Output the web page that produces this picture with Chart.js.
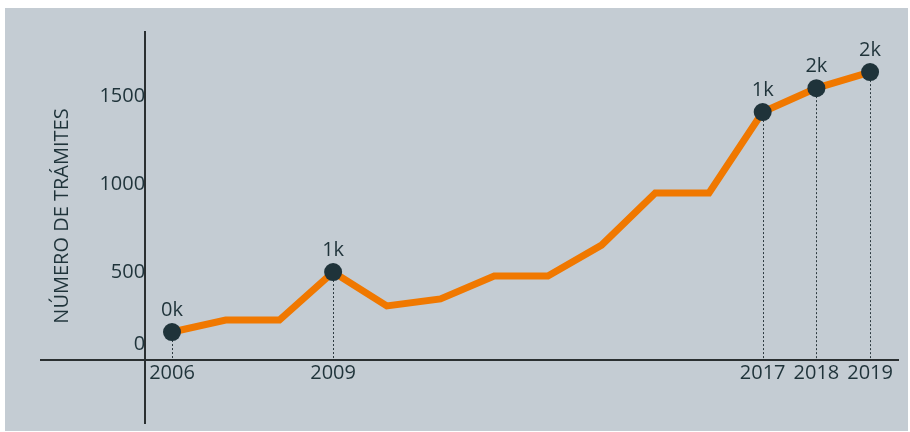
<!DOCTYPE html>
<html>
<head>
<meta charset="utf-8">
<script src="https://cdn.jsdelivr.net/npm/chart.js@4"></script>
<style>
  html, body { margin: 0; padding: 0; background: #fff; }
  #wrap { width: 910px; height: 432px; position: relative; }
</style>
</head>
<body>
<div id="wrap"><canvas id="tramitesChart"></canvas></div>
<script>
const years = [2006, 2007, 2008, 2009, 2010, 2011, 2012, 2013, 2014, 2015, 2016, 2017, 2018, 2019];
const tramites = [159, 227, 227, 500, 307, 347, 477, 477, 653, 949, 949, 1409, 1545, 1636];
const labeledYears = [2006, 2009, 2017, 2018, 2019];
const yTicks = [0, 500, 1000, 1500];
const yTitle = 'NÚMERO DE TRÁMITES';

const ink = '#1f333a';
const fontFamily = '"Open Sans", "Noto Sans", sans-serif';

const panelBg = {
  id: 'panelBg',
  beforeDraw(chart) {
    const ctx = chart.ctx;
    ctx.save();
    ctx.fillStyle = '#c4ccd3';
    ctx.fillRect(5, 8, 903, 423);
    ctx.restore();
  }
};

const dropLines = {
  id: 'dropLines',
  beforeDatasetsDraw(chart) {
    const ctx = chart.ctx;
    const x = chart.scales.x, y = chart.scales.y;
    ctx.save();
    ctx.strokeStyle = '#2d3a40';
    ctx.lineWidth = 1;
    ctx.setLineDash([2, 2]);
    years.forEach((yr, i) => {
      if (!labeledYears.includes(yr)) return;
      const px = Math.round(x.getPixelForValue(yr)) + 0.5;
      ctx.beginPath();
      ctx.moveTo(px, y.getPixelForValue(tramites[i]));
      ctx.lineTo(px, y.getPixelForValue(0));
      ctx.stroke();
    });
    ctx.restore();
  }
};

const pointLabels = {
  id: 'pointLabels',
  afterDatasetsDraw(chart) {
    const ctx = chart.ctx;
    const x = chart.scales.x, y = chart.scales.y;
    ctx.save();
    ctx.fillStyle = ink;
    ctx.font = '20px ' + fontFamily;
    ctx.textAlign = 'center';
    ctx.textBaseline = 'middle';
    years.forEach((yr, i) => {
      if (!labeledYears.includes(yr)) return;
      const txt = Math.round(tramites[i] / 1000) + 'k';
      ctx.fillText(txt, x.getPixelForValue(yr), y.getPixelForValue(tramites[i]) - 22);
    });
    // y axis title
    ctx.translate(62, 216);
    ctx.rotate(-Math.PI / 2);
    ctx.font = '20px ' + fontFamily;
    ctx.fillText(yTitle, 0, 0);
    ctx.restore();
  }
};

new Chart(document.getElementById('tramitesChart'), {
  type: 'line',
  data: {
    datasets: [{
      data: years.map((yr, i) => ({ x: yr, y: tramites[i] })),
      borderColor: '#f07800',
      borderWidth: 7,
      borderJoinStyle: 'miter',
      tension: 0,
      pointRadius: ctx => labeledYears.includes(years[ctx.dataIndex]) ? 9 : 0,
      pointHoverRadius: ctx => labeledYears.includes(years[ctx.dataIndex]) ? 9 : 0,
      pointBackgroundColor: ink,
      pointBorderWidth: 0
    }]
  },
  options: {
    responsive: true,
    maintainAspectRatio: false,
    animation: false,
    layout: { padding: { left: 41, right: 12, top: 32, bottom: 9 } },
    plugins: {
      legend: { display: false },
      tooltip: { enabled: false }
    },
    scales: {
      x: {
        type: 'linear',
        min: 2003.56,
        max: 2019.52,
        position: { y: 0 },
        afterFit: s => { s.height = 0; s.paddingLeft = 0; s.paddingRight = 0; },
        afterBuildTicks: s => { s.ticks = labeledYears.map(v => ({ value: v })); },
        grid: { display: false, drawTicks: false },
        border: { display: true, color: '#2a2f31', width: 2 },
        ticks: {
          callback: v => String(v),
          color: ink,
          font: { size: 20, family: fontFamily },
          padding: 1,
          maxRotation: 0
        }
      },
      y: {
        type: 'linear',
        min: -358,
        max: 1864,
        position: { x: 2005.5 },
        afterFit: s => { s.width = 0; s.paddingTop = 0; s.paddingBottom = 0; },
        afterBuildTicks: s => { s.ticks = yTicks.map(v => ({ value: v })); },
        grid: { display: false, drawTicks: false },
        border: { display: true, color: '#2a2f31', width: 2 },
        ticks: {
          callback: v => v === 0 ? ['0', ''] : String(v),
          color: ink,
          font: ctx => ({ size: 20, family: fontFamily, lineHeight: ctx.tick && ctx.tick.value === 0 ? 1.6 : 1.2 }),
          padding: 10
        }
      }
    }
  },
  plugins: [panelBg, dropLines, pointLabels]
});
</script>
</body>
</html>
